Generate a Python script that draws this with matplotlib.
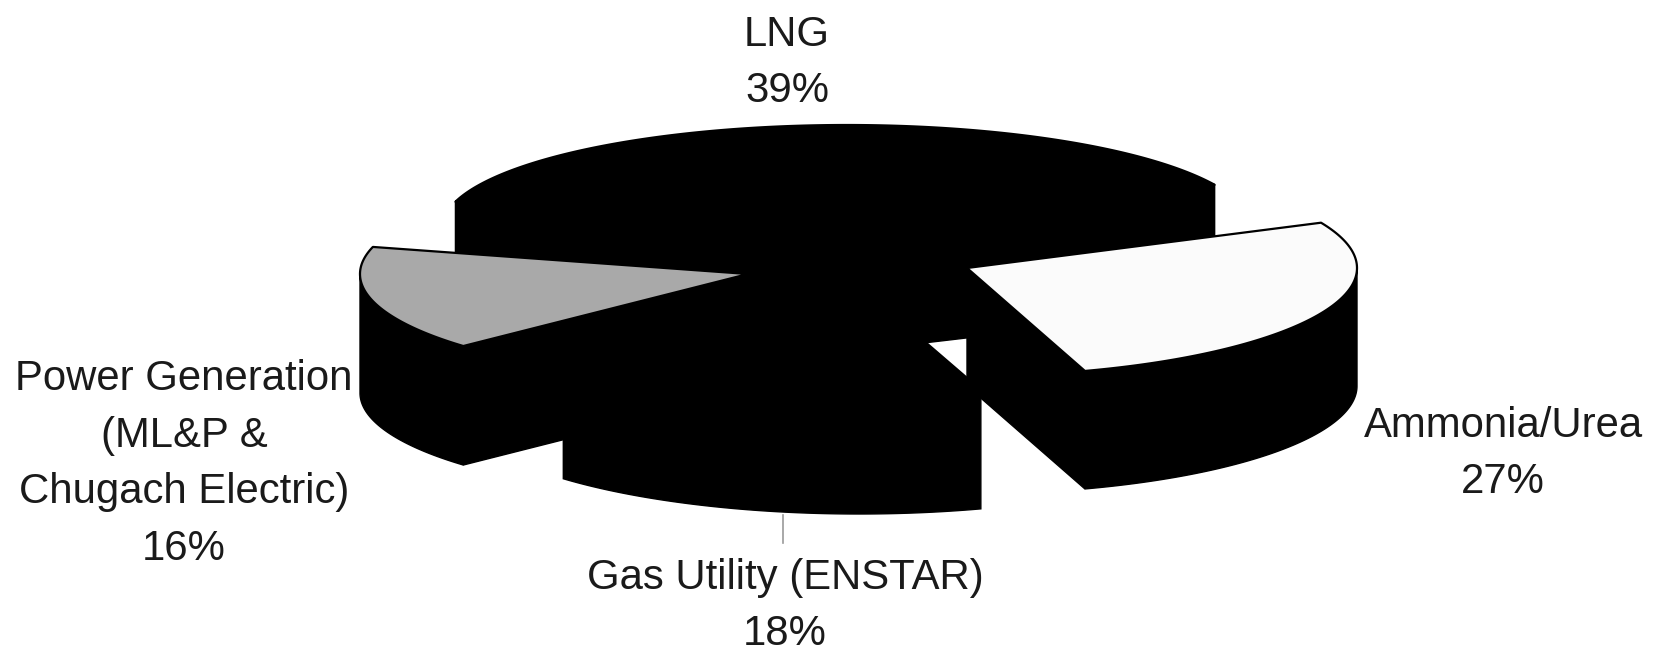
# 3d looking exploded pie, matplotlib has no such thing so the slices are built by hand

import numpy as np
import matplotlib
matplotlib.use('agg')
import matplotlib.pyplot as plt

plt.rcParams['font.family'] = ['Liberation Sans', 'DejaVu Sans']

categories = ['LNG', 'Ammonia/Urea', 'Gas Utility (ENSTAR)',
              'Power Generation\n(ML&P &\nChugach Electric)']
shares = [39, 27, 18, 16]

first_angle = 165.2  # where LNG starts, going clockwise

# one entry per slice, in the order of categories
center_x = [847, 967, 859, 748]
center_y = [228, 268, 285, 274]
radius_x = [405, 390, 403, 388]
radius_y = [103, 108, 110, 106]
depth = [124, 118, 119, 119]
top_color = ['black', '#fbfbfb', 'black', '#a9a9a9']
label_x = [787, 1503, 785, 184]
label_y = [63, 454, 606, 464]

draw_order = [0, 3, 1, 2]  # back to front

fig = plt.figure(figsize=(16.58, 6.55), dpi=100)
ax = fig.add_axes([0, 0, 1, 1])
ax.set_xlim(0, 1658)
ax.set_ylim(655, 0)
ax.axis('off')

sweep = 3.6 * np.array(shares)
starts = first_angle - np.concatenate(([0], np.cumsum(sweep)[:-1]))


def arc(i, t0, t1, drop=0):
    t = np.radians(np.linspace(t0, t1, 240))
    return (center_x[i] + radius_x[i] * np.cos(t),
            center_y[i] - radius_y[i] * np.sin(t) + drop)


for i in draw_order:
    t0 = starts[i]
    t1 = t0 - sweep[i]
    cx, cy, d = center_x[i], center_y[i], depth[i]

    # cut faces, only the ones turned towards the viewer
    for t, normal in [(t0, t0 + 90), (t1, t1 - 90)]:
        if np.sin(np.radians(normal)) < 0:
            ex, ey = arc(i, t, t)
            ax.fill([cx, ex[0], ex[0], cx], [cy, ey[0], ey[0] + d, cy + d],
                    color='black', lw=1)

    # rim, only the front half
    x, y = arc(i, t0, t1)
    xb, yb = arc(i, t0, t1, d)
    front = np.sin(np.radians(np.linspace(t0, t1, 240))) <= 0
    if front.any():
        ax.fill(np.r_[x[front], xb[front][::-1]], np.r_[y[front], yb[front][::-1]],
                color='black', lw=1)

    # top face
    ax.fill(np.r_[cx, x], np.r_[cy, y], facecolor=top_color[i],
            edgecolor='black', lw=1.6, joinstyle='round')

for i in range(len(shares)):
    ax.text(label_x[i], label_y[i], '{}\n{}%'.format(categories[i], shares[i]),
            ha='center', va='center', fontsize=30.2, color='#1a1a1a',
            linespacing=1.54)

# leader from the gas slice to its label
ax.plot([783, 783], [515, 543], color='#9a9a9a', lw=1.2)

plt.savefig('out.png', dpi=100)
